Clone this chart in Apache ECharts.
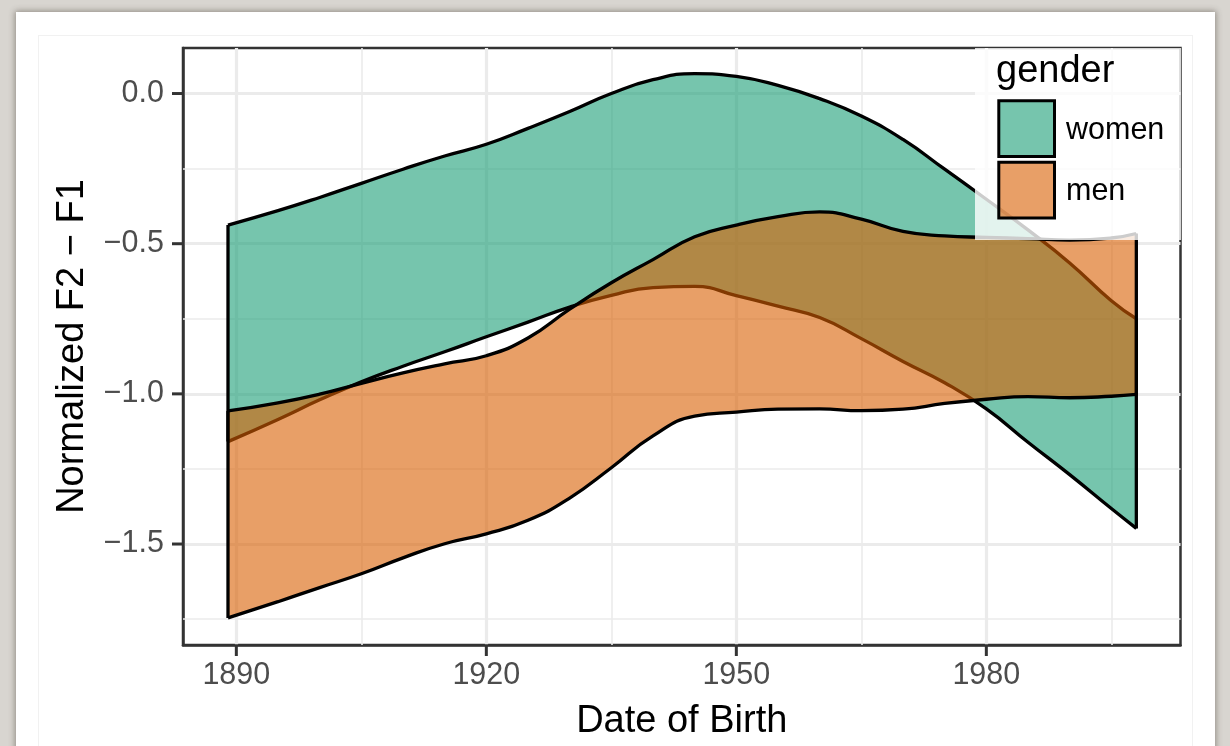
<!DOCTYPE html>
<html><head><meta charset="utf-8">
<script src="https://cdn.jsdelivr.net/npm/echarts@6/dist/echarts.min.js"></script>
<style>
html,body{margin:0;padding:0;width:1230px;height:746px;overflow:hidden;background:#d8d5d0;}
#card{position:absolute;left:16px;top:12px;width:1199px;height:800px;background:#fff;box-shadow:0 0 6px 1px rgba(60,50,40,0.45);}
#inner{position:absolute;left:38px;top:35px;width:1155px;height:800px;border:1px solid #f1f1f1;box-sizing:border-box;}
#chart{position:absolute;left:0;top:0;width:1230px;height:746px;}
</style></head><body>
<div id="card"></div><div id="inner"></div><div id="chart"></div>
<script>
// ---- data ----
const years = [1889,1895,1900,1905,1910,1915,1920,1925,1930,1935,1940,1945,1950,1955,1960,1965,1970,1975,1980,1985,1990,1995,1998];
const womenUpper = [-0.438,-0.390,-0.346,-0.299,-0.252,-0.208,-0.169,-0.116,-0.060,0.000,0.046,0.066,0.057,0.027,-0.017,-0.075,-0.153,-0.252,-0.352,-0.454,-0.564,-0.690,-0.750];
const womenLower = [-1.159,-1.085,-1.020,-0.960,-0.908,-0.860,-0.810,-0.761,-0.711,-0.672,-0.646,-0.642,-0.673,-0.708,-0.746,-0.816,-0.892,-0.963,-1.050,-1.161,-1.269,-1.382,-1.448];
const menUpper = [-1.057,-1.030,-1.001,-0.965,-0.930,-0.900,-0.873,-0.814,-0.718,-0.630,-0.553,-0.477,-0.438,-0.410,-0.394,-0.418,-0.459,-0.474,-0.479,-0.483,-0.488,-0.481,-0.466];
const menLower = [-1.746,-1.692,-1.645,-1.599,-1.546,-1.499,-1.466,-1.421,-1.347,-1.246,-1.140,-1.074,-1.061,-1.051,-1.050,-1.056,-1.051,-1.032,-1.018,-1.009,-1.013,-1.008,-1.002];
const groups = ['women','men'];
const xTicks = [1890,1920,1950,1980];
const xMinor = [1905,1935,1965,1995];
const yTicks = [0,-0.5,-1.0,-1.5];
const yMinor = [-0.25,-0.75,-1.25,-1.75];

// ---- styling ----
const FONT = "'Liberation Sans', Arial, Helvetica, sans-serif";
const COLORS = {women:'#1b9e77', men:'#d95f02'};
const SMOOTH = 0.5;
const X_MIN = 1883.6, X_MAX = 2003.3, Y_MIN = -1.8362, Y_MAX = 0.1516;
const TICK_LEN = 11, TICK_W = 3;

function fmtY(v){ return (v < 0 ? '\u2212' : '') + Math.abs(v).toFixed(1); }

const minorGrid = {
  silent:true, symbol:'none', z:1, animation:false,
  label:{show:false}, emphasis:{disabled:true},
  lineStyle:{color:'#ebebeb', width:1.6, type:'solid'},
  data: [].concat(xMinor.map(v=>({xAxis:v})), yMinor.map(v=>({yAxis:v})))
};

function ribbonSeries(key, upper, lower, zFill, zLine, withGrid){
  const st = 'stack_' + key;
  const base = {type:'line', symbol:'none', silent:true, animation:false, smooth:SMOOTH};
  const out = [];
  const b = Object.assign({}, base, {
    name:key+'_base', stack:st, stackStrategy:'all', z:zFill,
    dimensions:['v','year'], encode:{x:'year', y:'v'},
    data: years.map((x,i)=>[lower[i], x]),
    lineStyle:{opacity:0, width:0}
  });
  if (withGrid) b.markLine = minorGrid;
  out.push(b);
  out.push(Object.assign({}, base, {
    name:key, stack:st, stackStrategy:'all', z:zFill,
    dimensions:['v','year'], encode:{x:'year', y:'v'},
    data: years.map((x,i)=>[upper[i]-lower[i], x]),
    lineStyle:{opacity:0, width:0},
    areaStyle:{color:COLORS[key], opacity:0.6}
  }));
  const ln = {color:'#000', width:3.3, join:'miter', cap:'butt'};
  out.push(Object.assign({}, base, {name:key+'_lo', z:zLine, data: years.map((x,i)=>[x, lower[i]]), lineStyle:ln}));
  out.push(Object.assign({}, base, {name:key+'_hi', z:zLine, data: years.map((x,i)=>[x, upper[i]]), lineStyle:ln}));
  const n = years.length - 1;
  out.push(Object.assign({}, base, {name:key+'_l', z:zLine, smooth:false, data: [[years[0], lower[0]],[years[0], upper[0]]], lineStyle:ln}));
  out.push(Object.assign({}, base, {name:key+'_r', z:zLine, smooth:false, data: [[years[n], lower[n]],[years[n], upper[n]]], lineStyle:ln}));
  return out;
}

// tick marks drawn through the axes' own scales with custom series (not clipped)
const tickSeries = [
  {
    type:'custom', name:'xticks', silent:true, animation:false, clip:false, z:20,
    data: xTicks.map(v => [v, Y_MIN]),
    encode:{x:0, y:1},
    renderItem: function(params, api){
      const p = api.coord([api.value(0), api.value(1)]);
      return {type:'rect', shape:{x:p[0]-TICK_W/2, y:p[1], width:TICK_W, height:TICK_LEN}, style:{fill:'#333333'}};
    }
  },
  {
    type:'custom', name:'yticks', silent:true, animation:false, clip:false, z:20,
    data: yTicks.map(v => [X_MIN, v]),
    encode:{x:0, y:1},
    renderItem: function(params, api){
      const p = api.coord([api.value(0), api.value(1)]);
      return {type:'rect', shape:{x:p[0]-TICK_LEN, y:p[1]-TICK_W/2, width:TICK_LEN, height:TICK_W}, style:{fill:'#333333'}};
    }
  }
];

const series = [].concat(
  ribbonSeries('women', womenUpper, womenLower, 2, 3, true),
  ribbonSeries('men', menUpper, menLower, 4, 5, false),
  tickSeries
);

const legendGraphics = [
  {type:'rect', z:100, silent:true, shape:{x:975, y:48, width:206, height:192}, style:{fill:'rgba(255,255,255,0.8)'}},
  {type:'text', z:101, silent:true, x:996, y:72, style:{text:'gender', font:'38px '+FONT, fill:'#000', verticalAlign:'middle', align:'left'}},
  {type:'rect', z:101, silent:true, shape:{x:998.8, y:100.8, width:55.7, height:55.7}, style:{fill:'rgba(27,158,119,0.6)', stroke:'#000', lineWidth:3}},
  {type:'rect', z:101, silent:true, shape:{x:998.8, y:162.3, width:55.7, height:55.7}, style:{fill:'rgba(217,95,2,0.6)', stroke:'#000', lineWidth:3}},
  {type:'text', z:101, silent:true, x:1066, y:131, style:{text:groups[0], font:'30.5px '+FONT, fill:'#000', verticalAlign:'middle', align:'left'}},
  {type:'text', z:101, silent:true, x:1066, y:192, style:{text:groups[1], font:'30.5px '+FONT, fill:'#000', verticalAlign:'middle', align:'left'}}
];

const axisText = {fontFamily:FONT, fontSize:30.5, color:'#4d4d4d'};
const option = {
  animation:false,
  backgroundColor:'transparent',
  grid:{left:183, top:48, width:997.5, height:599.5, show:true, borderColor:'#333333', borderWidth:2.5, backgroundColor:'transparent', containLabel:false},
  xAxis:{
    type:'value', min:X_MIN, max:X_MAX,
    name:'Date of Birth', nameLocation:'middle', nameGap:58,
    nameTextStyle:{fontFamily:FONT, fontSize:38, color:'#000'},
    axisLine:{show:true, onZero:false, lineStyle:{color:'#333333', width:2.5}},
    axisTick:{show:false, customValues:xTicks},
    axisLabel:Object.assign({customValues:xTicks, margin:15, formatter:v=>String(v)}, axisText),
    splitLine:{show:true, lineStyle:{color:'#ebebeb', width:3.2}}
  },
  yAxis:{
    type:'value', min:Y_MIN, max:Y_MAX,
    name:'Normalized F2 \u2212 F1', nameLocation:'middle', nameGap:91, nameRotate:90,
    nameTextStyle:{fontFamily:FONT, fontSize:38, color:'#000'},
    axisLine:{show:true, onZero:false, lineStyle:{color:'#333333', width:2.5}},
    axisTick:{show:false, customValues:yTicks},
    axisLabel:Object.assign({customValues:yTicks, margin:19, formatter:fmtY}, axisText),
    splitLine:{show:true, lineStyle:{color:'#ebebeb', width:3.2}}
  },
  series: series,
  graphic: legendGraphics
};
const chart = echarts.init(document.getElementById('chart'), null, {renderer:'canvas'});
chart.setOption(option);
</script>
</body></html>
